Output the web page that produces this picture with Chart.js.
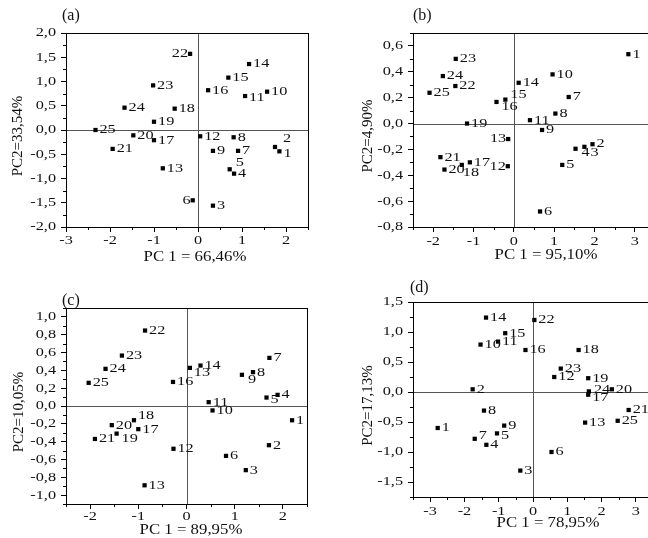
<!DOCTYPE html>
<html>
<head>
<meta charset="utf-8">
<script src="https://cdn.jsdelivr.net/npm/chart.js@4.4.1/dist/chart.umd.min.js"></script>
<style>
	html, body { margin: 0; padding: 0; background: #fff; width: 648px; height: 538px; overflow: hidden; }
	canvas { position: absolute; }
</style>
</head>
<body>
<canvas id="chartA" style="left:0px;top:0px" width="324" height="269"></canvas>
<canvas id="chartB" style="left:324px;top:0px" width="340" height="269"></canvas>
<canvas id="chartC" style="left:0px;top:269px" width="324" height="269"></canvas>
<canvas id="chartD" style="left:324px;top:269px" width="340" height="269"></canvas>
<script>
// (a)
const aLabels = ['1','2','3','4','5','6','7','8','9','10','11','12','13','14','15','16','17','18','19','20','21','22','23','24','25'];
const aPC1 = [1.85, 1.75, 0.34, 0.82, 0.72, -0.12, 0.91, 0.81, 0.34, 1.57, 1.07, 0.05, -0.80, 1.16, 0.69, 0.23, -1.00, -0.53, -1.00, -1.47, -1.94, -0.18, -1.02, -1.67, -2.33];
const aPC2 = [-0.44, -0.35, -1.56, -0.90, -0.81, -1.45, -0.43, -0.15, -0.43, 0.79, 0.70, -0.13, -0.79, 1.36, 1.08, 0.82, -0.21, 0.44, 0.17, -0.11, -0.39, 1.57, 0.92, 0.46, 0.00];
const aXTicks = [-3, -2, -1, 0, 1, 2];
const aYTicks = [-2, -1.5, -1, -0.5, 0, 0.5, 1, 1.5, 2];

// (b)
const bLabels = ['1','2','3','4','5','6','7','8','9','10','11','12','13','14','15','16','17','18','19','20','21','22','23','24','25'];
const bPC1 = [2.84, 1.95, 1.75, 1.53, 1.20, 0.65, 1.36, 1.03, 0.70, 0.96, 0.40, -0.15, -0.14, 0.12, -0.21, -0.43, -1.09, -1.29, -1.16, -1.72, -1.82, -1.45, -1.44, -1.76, -2.09];
const bPC2 = [0.536, -0.16, -0.18, -0.195, -0.32, -0.68, 0.205, 0.077, -0.05, 0.38, 0.026, -0.33, -0.12, 0.315, 0.185, 0.167, -0.30, -0.32, 0.00, -0.356, -0.26, 0.29, 0.50, 0.367, 0.238];
const bXTicks = [-2, -1, 0, 1, 2, 3];
const bYTicks = [-0.8, -0.6, -0.4, -0.2, 0, 0.2, 0.4, 0.6];

// (c) - the label "13" really appears twice in the figure
const cLabels = ['1','2','3','4','5','6','7','8','9','10','11','12','13','14','13','16','17','18','19','20','21','22','23','24','25'];
const cPC1 = [2.19, 1.71, 1.23, 1.89, 1.66, 0.82, 1.72, 1.38, 1.15, 0.54, 0.46, -0.27, -0.87, 0.29, 0.07, -0.28, -1.00, -1.09, -1.45, -1.55, -1.90, -0.86, -1.34, -1.68, -2.03];
const cPC2 = [-0.16, -0.44, -0.72, 0.125, 0.095, -0.56, 0.54, 0.38, 0.35, -0.05, 0.043, -0.48, -0.89, 0.454, 0.428, 0.27, -0.26, -0.16, -0.31, -0.215, -0.37, 0.847, 0.566, 0.417, 0.26];
const cXTicks = [-2, -1, 0, 1, 2];
const cYTicks = [-1, -0.8, -0.6, -0.4, -0.2, 0, 0.2, 0.4, 0.6, 0.8, 1];

// (d)
const dLabels = ['1','2','3','4','5','6','7','8','9','10','11','12','13','14','15','16','17','18','19','20','21','22','23','24','25'];
const dPC1 = [-2.78, -1.76, -0.37, -1.36, -1.05, 0.54, -1.70, -1.43, -0.84, -1.53, -1.02, 0.62, 1.52, -1.37, -0.81, -0.22, 1.61, 1.33, 1.61, 2.30, 2.79, 0.04, 0.81, 1.63, 2.47];
const dPC2 = [-0.60, 0.045, -1.31, -0.88, -0.69, -1.00, -0.78, -0.31, -0.56, 0.79, 0.84, 0.25, -0.51, 1.24, 0.98, 0.70, -0.045, 0.70, 0.23, 0.045, -0.30, 1.20, 0.39, 0.01, -0.48];
const dXTicks = [-3, -2, -1, 0, 1, 2, 3];
const dYTicks = [-1.5, -1, -0.5, 0, 0.5, 1, 1.5];

const SERIF = '"Liberation Serif", "Times New Roman", serif';

buildAll();

function buildAll() {
	buildPanel({
		canvasId: 'chartA', tag: '(a)', tagPos: [62, 16],
		labels: aLabels, x: aPC1, y: aPC2,
		xMin: -3, xMax: 2.5, xTicks: aXTicks, xMinor: 0.5, xDigits: 0,
		yMin: -2, yMax: 2, yTicks: aYTicks, yMinor: 0.25, yDigits: 1,
		padding: { top: 33, right: 16, left: 0, bottom: 0 }, yWidth: 66, xHeight: 42,
		xTickY: 14,
		xTitle: 'PC 1 = 66,46%', xTitlePos: [129, 30],
		yTitle: 'PC2=33,54%', yTitleX: 18,
		// index -> [dx, dy] or 'L' for a label on the left side
		nudge: { 0: [0, 2], 1: [4, -8], 4: [2, -7], 5: 'L', 10: [0, 2], 21: 'L' }
	});

	buildPanel({
		canvasId: 'chartB', tag: '(b)', tagPos: [89, 16],
		labels: bLabels, x: bPC1, y: bPC2,
		xMin: -2.5, xMax: 3.5, xTicks: bXTicks, xMinor: 0.5, xDigits: 0,
		yMin: -0.8, yMax: 0.7, yTicks: bYTicks, yMinor: 0.1, yDigits: 1,
		padding: { top: 33, right: 9, left: 0, bottom: 0 }, yWidth: 89, xHeight: 42,
		xTickY: 15,
		xTitle: 'PC 1 = 95,10%', xTitlePos: [133, 28],
		yTitle: 'PC2=4,90%', yTitleX: 44,
		nudge: { 1: [0, -1], 2: [2, 6], 3: [2, 4], 11: 'L', 12: 'L', 14: [1, -5], 15: [1, 5], 17: [-3, 8] }
	});

	buildPanel({
		canvasId: 'chartC', tag: '(c)', tagPos: [62, 32],
		labels: cLabels, x: cPC1, y: cPC2,
		xMin: -2.5, xMax: 2.5, xTicks: cXTicks, xMinor: 0.5, xDigits: 0,
		yMin: -1.1, yMax: 1.1, yTicks: cYTicks, yMinor: 0.1, yDigits: 1,
		padding: { top: 39, right: 17, left: 0, bottom: 0 }, yWidth: 66, xHeight: 34,
		xTickY: 13,
		xTitle: 'PC 1 = 89,95%', xTitlePos: [125, 26],
		yTitle: 'PC2=10,05%', yTitleX: 19,
		nudge: { 4: [0, 2], 8: [2, 5], 14: [0, 5], 17: [0, -5], 18: [1, 5] }
	});

	buildPanel({
		canvasId: 'chartD', tag: '(d)', tagPos: [86, 19],
		labels: dLabels, x: dPC1, y: dPC2,
		xMin: -3.5, xMax: 3.5, xTicks: dXTicks, xMinor: 0.5, xDigits: 0,
		yMin: -1.75, yMax: 1.5, yTicks: dYTicks, yMinor: 0.25, yDigits: 1,
		padding: { top: 33, right: 11, left: 0, bottom: 0 }, yWidth: 89, xHeight: 41,
		xTickY: 15,
		xTitle: 'PC 1 = 78,95%', xTitlePos: [135, 26],
		yTitle: 'PC2=17,13%', yTitleX: 44,
		nudge: { 4: [0, 2], 6: [0, -3], 16: [0, 3], 23: [1, -2] }
	});
}

function fmt(v, digits) {
	return v.toFixed(digits).replace('.', ',');
}

// the digits in the figure are wider than plain Times, so stretch them a bit
function drawText(ctx, text, x, y, align, size, stretch) {
	ctx.save();
	ctx.font = size + 'px ' + SERIF;
	ctx.textAlign = align;
	ctx.textBaseline = 'middle';
	ctx.translate(x, y);
	ctx.scale(stretch, 1);
	ctx.fillText(text, 0, 0);
	ctx.restore();
}

function scaleOptions(min, max, ticks, fitSize, isX) {
	return {
		type: 'linear',
		min: min,
		max: max,
		afterBuildTicks: s => { s.ticks = ticks.map(v => ({ value: v })); },
		afterFit: s => {
			if (isX) {
				s.height = fitSize;
			} else {
				s.width = fitSize;
			}
		},
		ticks: { display: false },
		grid: {
			drawOnChartArea: false,
			drawTicks: true,
			tickLength: 5,
			color: '#000',
			lineWidth: 1
		},
		border: { display: true, color: '#000', width: 1 }
	};
}

function makeDecor(p) {
	return {
		id: 'panelDecor',
		beforeDatasetsDraw(chart) {
			const ctx = chart.ctx;
			const a = chart.chartArea;
			const xs = chart.scales.x;
			const ys = chart.scales.y;
			ctx.save();

			// zero lines
			ctx.strokeStyle = '#555';
			ctx.lineWidth = 1;
			const x0 = Math.round(xs.getPixelForValue(0)) + 0.5;
			const y0 = Math.round(ys.getPixelForValue(0)) + 0.5;
			ctx.beginPath();
			ctx.moveTo(x0, a.top);
			ctx.lineTo(x0, a.bottom);
			ctx.moveTo(a.left, y0);
			ctx.lineTo(a.right, y0);
			ctx.stroke();

			// frame
			ctx.strokeStyle = '#000';
			ctx.strokeRect(Math.round(a.left) + 0.5, Math.round(a.top) + 0.5, Math.round(a.right - a.left), Math.round(a.bottom - a.top));

			// minor ticks
			ctx.beginPath();
			const nx = Math.round((p.xMax - p.xMin) / p.xMinor);
			for (let k = 0; k <= nx; k++) {
				const v = p.xMin + k * p.xMinor;
				if (p.xTicks.some(t => Math.abs(t - v) < 1e-6)) continue;
				const px = Math.round(xs.getPixelForValue(v)) + 0.5;
				ctx.moveTo(px, a.bottom);
				ctx.lineTo(px, a.bottom + 3);
			}
			const ny = Math.round((p.yMax - p.yMin) / p.yMinor);
			for (let k = 0; k <= ny; k++) {
				const v = p.yMin + k * p.yMinor;
				if (p.yTicks.some(t => Math.abs(t - v) < 1e-6)) continue;
				const py = Math.round(ys.getPixelForValue(v)) + 0.5;
				ctx.moveTo(a.left, py);
				ctx.lineTo(a.left - 3, py);
			}
			ctx.stroke();
			ctx.restore();
		},
		afterDatasetsDraw(chart) {
			const ctx = chart.ctx;
			const a = chart.chartArea;
			const xs = chart.scales.x;
			const ys = chart.scales.y;
			ctx.save();
			ctx.fillStyle = '#111';

			// tick labels
			p.xTicks.forEach(v => {
				drawText(ctx, fmt(v, p.xDigits), xs.getPixelForValue(v), a.bottom + p.xTickY, 'center', 13, 1.25);
			});
			p.yTicks.forEach(v => {
				drawText(ctx, fmt(v, p.yDigits), a.left - 10, ys.getPixelForValue(v), 'right', 13, 1.25);
			});

			// point labels
			p.labels.forEach((label, i) => {
				const px = xs.getPixelForValue(p.x[i]);
				const py = ys.getPixelForValue(p.y[i]);
				const n = p.nudge[i];
				if (n === 'L') {
					drawText(ctx, label, px - 2, py, 'right', 13, 1.25);
				} else {
					const d = n || [0, 0];
					drawText(ctx, label, px + 4 + d[0], py + d[1], 'left', 13, 1.25);
				}
			});

			// axis titles
			drawText(ctx, p.xTitle, a.left + p.xTitlePos[0], a.bottom + p.xTitlePos[1], 'center', 15, 1.12);
			ctx.save();
			ctx.translate(p.yTitleX, (a.top + a.bottom) / 2 + 6);
			ctx.rotate(-Math.PI / 2);
			drawText(ctx, p.yTitle, 0, 0, 'center', 15, 1);
			ctx.restore();

			// panel tag
			drawText(ctx, p.tag, p.tagPos[0], p.tagPos[1], 'left', 16, 1);
			ctx.restore();
		}
	};
}

function buildPanel(p) {
	const canvas = document.getElementById(p.canvasId);
	const points = p.x.map((v, i) => ({ x: v, y: p.y[i] }));

	return new Chart(canvas, {
		type: 'scatter',
		data: {
			datasets: [{
				data: points,
				pointStyle: 'rect',
				radius: 3,
				hoverRadius: 3,
				backgroundColor: '#000',
				borderWidth: 0
			}]
		},
		options: {
			responsive: false,
			animation: false,
			devicePixelRatio: 1,
			layout: { padding: p.padding },
			scales: {
				x: scaleOptions(p.xMin, p.xMax, p.xTicks, p.xHeight, true),
				y: scaleOptions(p.yMin, p.yMax, p.yTicks, p.yWidth, false)
			},
			plugins: {
				legend: { display: false },
				tooltip: { enabled: false }
			}
		},
		plugins: [makeDecor(p)]
	});
}
</script>
</body>
</html>
